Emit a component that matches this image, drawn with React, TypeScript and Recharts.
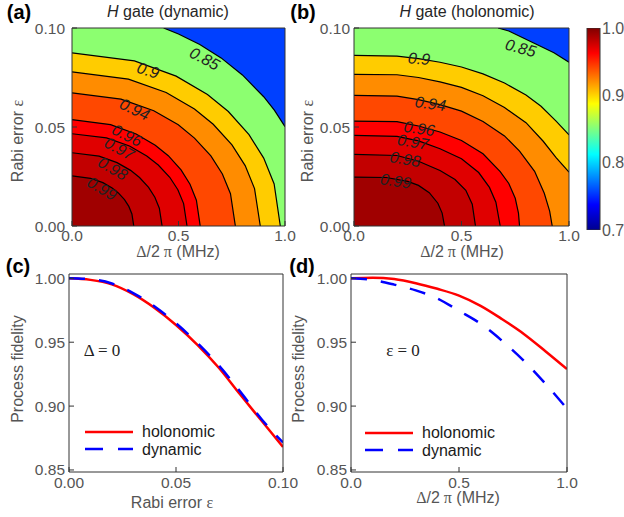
import React from 'react';
import {
  ComposedChart,
  LineChart,
  BarChart,
  Area,
  Line,
  Bar,
  Scatter,
  XAxis,
  YAxis,
  Legend,
} from 'recharts';

type Pt = [number, number];

const FONT = '"Liberation Sans", Arial, sans-serif';
const SERIF = '"Liberation Serif", "Times New Roman", serif';
const AXIS = '#333';

// contour levels, fill colour of the band above each level
const levels = [0.85, 0.9, 0.92, 0.94, 0.96, 0.97, 0.98, 0.99];
const bandColors = ['#8CFF70', '#FFCC00', '#FF8C00', '#FF4800', '#FF0000', '#E00000', '#C20000', '#A00000'];
const belowColor = '#0040FF';

// (a) dynamic gate: contour lines, x = Δ/2π (MHz), y = Rabi error ε
const dyn85: Pt[] = [[0.43, 0.1], [0.5, 0.097], [0.6, 0.0917], [0.7, 0.0849], [0.8, 0.0763], [0.9, 0.0653], [0.95, 0.0585], [1.0, 0.0502]];
const dyn90: Pt[] = [[0, 0.0874], [0.293, 0.0834], [0.489, 0.0757], [0.636, 0.0664], [0.734, 0.0578], [0.831, 0.0461], [0.9, 0.0343], [0.949, 0.0212], [0.978, 0]];
const dyn92: Pt[] = [[0, 0.0778], [0.265, 0.0742], [0.442, 0.0674], [0.575, 0.0591], [0.663, 0.0514], [0.751, 0.041], [0.813, 0.0305], [0.857, 0.0189], [0.884, 0]];
const dyn94: Pt[] = [[0, 0.0672], [0.23, 0.0641], [0.384, 0.0582], [0.499, 0.0511], [0.575, 0.0444], [0.652, 0.0354], [0.706, 0.0263], [0.744, 0.0163], [0.767, 0]];
const dyn96: Pt[] = [[0, 0.0537], [0.181, 0.0512], [0.301, 0.0465], [0.391, 0.0408], [0.452, 0.0355], [0.512, 0.0283], [0.554, 0.0211], [0.584, 0.013], [0.602, 0]];
const dyn97: Pt[] = [[0, 0.0466], [0.162, 0.0445], [0.27, 0.0404], [0.351, 0.0354], [0.405, 0.0308], [0.459, 0.0246], [0.497, 0.0183], [0.524, 0.0113], [0.54, 0]];
const dyn98: Pt[] = [[0, 0.037], [0.127, 0.0353], [0.2115, 0.032], [0.275, 0.0281], [0.317, 0.0245], [0.3596, 0.0195], [0.389, 0.0145], [0.41, 0.009], [0.423, 0]];
const dyn99: Pt[] = [[0, 0.0253], [0.087, 0.0241], [0.145, 0.0219], [0.1885, 0.0192], [0.2175, 0.0167], [0.2465, 0.0133], [0.2668, 0.0099], [0.2813, 0.0061], [0.29, 0]];

// (b) holonomic gate
const hol85: Pt[] = [[0.67, 0.1], [0.72, 0.0985], [0.79, 0.0948], [0.86, 0.0912], [0.93, 0.0875], [1.0, 0.0827]];
const hol90: Pt[] = [[0, 0.0862], [0.2, 0.0858], [0.3, 0.0845], [0.4, 0.0827], [0.5, 0.0803], [0.6, 0.0768], [0.7, 0.0722], [0.8, 0.0662], [0.87, 0.0605], [0.94, 0.053], [1.0, 0.046]];
const hol92: Pt[] = [[0, 0.0766], [0.2, 0.0764], [0.3, 0.075], [0.4, 0.0728], [0.5, 0.07], [0.6, 0.0658], [0.7, 0.0598], [0.8, 0.0522], [0.88, 0.0428], [0.94, 0.0345], [1.0, 0.0272]];
const hol94: Pt[] = [[0, 0.066], [0.2, 0.0656], [0.3, 0.0638], [0.4, 0.0613], [0.5, 0.058], [0.6, 0.0528], [0.7, 0.0455], [0.77, 0.0378], [0.84, 0.0276], [0.885, 0.0165], [0.91, 0.0075], [0.922, 0]];
const hol96: Pt[] = [[0, 0.053], [0.2, 0.0527], [0.3, 0.0505], [0.4, 0.0475], [0.5, 0.0432], [0.6, 0.0365], [0.68, 0.0275], [0.72, 0.0215], [0.75, 0.014], [0.765, 0.0065], [0.77, 0]];
const hol97: Pt[] = [[0, 0.0458], [0.2, 0.0453], [0.3, 0.043], [0.4, 0.039], [0.5, 0.034], [0.58, 0.027], [0.63, 0.0195], [0.66, 0.012], [0.68, 0]];
const hol98: Pt[] = [[0, 0.0362], [0.2, 0.0356], [0.3, 0.0327], [0.4, 0.028], [0.47, 0.0235], [0.52, 0.018], [0.55, 0.011], [0.565, 0]];
const hol99: Pt[] = [[0, 0.0247], [0.15, 0.0245], [0.25, 0.0225], [0.3, 0.0205], [0.35, 0.0168], [0.39, 0.0115], [0.41, 0.0065], [0.421, 0]];

const dynContours = [dyn85, dyn90, dyn92, dyn94, dyn96, dyn97, dyn98, dyn99];
const holContours = [hol85, hol90, hol92, hol94, hol96, hol97, hol98, hol99];

// inline contour labels (data coordinates)
const dynLabels = [
  { x: 0.623, y: 0.0845, text: '0.85' },
  { x: 0.357, y: 0.0786, text: '0.9' },
  { x: 0.294, y: 0.0589, text: '0.94' },
  { x: 0.258, y: 0.0458, text: '0.96' },
  { x: 0.222, y: 0.039, text: '0.97' },
  { x: 0.191, y: 0.029, text: '0.98' },
  { x: 0.141, y: 0.0189, text: '0.99' },
];
const dynLabelAngles = [28, 18, 25, 27, 28, 30, 30];
const holLabels = [
  { x: 0.775, y: 0.0899, text: '0.85' },
  { x: 0.303, y: 0.0845, text: '0.9' },
  { x: 0.355, y: 0.0618, text: '0.94' },
  { x: 0.303, y: 0.0492, text: '0.96' },
  { x: 0.274, y: 0.0424, text: '0.97' },
  { x: 0.238, y: 0.0337, text: '0.98' },
  { x: 0.194, y: 0.0227, text: '0.99' },
];
const holLabelAngles = [15, 5, 8, 8, 10, 10, 8];

// (c) fidelity vs Rabi error at Δ = 0
const rabiError = [0, 0.01, 0.02, 0.03, 0.04, 0.05, 0.06, 0.07, 0.08, 0.09, 0.1];
const holVsEps = [1.0, 0.9988, 0.9953, 0.9876, 0.9768, 0.9635, 0.948, 0.93, 0.909, 0.8885, 0.868];
const dynVsEps = [1.0, 0.9993, 0.996, 0.9885, 0.978, 0.9648, 0.9494, 0.9318, 0.9113, 0.8897, 0.8715];

// (d) fidelity vs detuning at ε = 0
const detuning = [0, 0.1, 0.2, 0.3, 0.4, 0.5, 0.6, 0.7, 0.8, 0.9, 1.0];
const holVsDelta = [1.0, 1.0005, 0.9994, 0.9962, 0.9918, 0.9865, 0.9785, 0.968, 0.9565, 0.943, 0.929];
const dynVsDelta = [1.0, 0.9987, 0.9951, 0.9906, 0.9843, 0.9746, 0.9645, 0.951, 0.9355, 0.9175, 0.898];

const colorbarRange = [0.7, 1.0];
const colorbarTicks = [0.7, 0.8, 0.9, 1.0];

const tickStyle = { fontSize: 15.5, fill: '#555', fontFamily: FONT };
const plotBox = [{ x: 0, y: 0.1 }, { x: 1, y: 0.1 }];

const renderContourLabel = (p: any) => (
  <text
    x={p.cx}
    y={p.cy}
    transform={`rotate(${p.payload.angle} ${p.cx} ${p.cy})`}
    textAnchor="middle"
    dominantBaseline="central"
    fontSize={16}
    fontStyle="italic"
    fontFamily={FONT}
    fill="#222"
  >
    {p.payload.text}
  </text>
);

interface ContourProps {
  contours: Pt[][];
  labels: { x: number; y: number; text: string }[];
  angles: number[];
  width: number;
  yWidth: number;
  yTickMargin: number;
  rightMargin: number;
}

const ContourMap: React.FC<ContourProps> = ({ contours, labels, angles, width, yWidth, yTickMargin, rightMargin }) => {
  const lines = contours.map((pts) => pts.map(([x, y]) => ({ x, y })));
  // region F >= level: fill under the curve (top-edge part added where the curve starts on y = 0.1)
  const fills = lines.map((d) => (d[0].x > 0 ? [{ x: 0, y: d[0].y }, ...d] : d));
  const labelData = labels.map((l, i) => ({ ...l, angle: angles[i] }));
  return (
    <ComposedChart width={width} height={262} margin={{ top: 27, right: rightMargin, bottom: 0, left: 0 }}>
      <Area data={plotBox} dataKey="y" type="linear" fill={belowColor} fillOpacity={1} stroke="none" isAnimationActive={false} />
      {fills.map((d, i) => (
        <Area
          key={`fill-${levels[i]}`}
          data={d}
          dataKey="y"
          type="linear"
          fill={bandColors[i]}
          fillOpacity={1}
          stroke="none"
          isAnimationActive={false}
        />
      ))}
      {lines.map((d, i) => (
        <Line
          key={`line-${levels[i]}`}
          data={d}
          dataKey="y"
          type="linear"
          stroke="#000"
          strokeWidth={1.2}
          dot={false}
          activeDot={false}
          isAnimationActive={false}
        />
      ))}
      <Scatter data={labelData} dataKey="y" shape={renderContourLabel} isAnimationActive={false} />
      <Line xAxisId="top" yAxisId="right" data={plotBox} dataKey="y" stroke="none" dot={false} isAnimationActive={false} />
      <XAxis
        dataKey="x"
        type="number"
        domain={[0, 1]}
        ticks={[0, 0.5, 1]}
        allowDataOverflow
        tickFormatter={(v: number) => v.toFixed(1)}
        height={36}
        tickSize={-5}
        tickMargin={9}
        stroke={AXIS}
        tick={tickStyle}
      />
      <YAxis
        dataKey="y"
        type="number"
        domain={[0, 0.1]}
        ticks={[0, 0.05, 0.1]}
        allowDataOverflow
        tickFormatter={(v: number) => v.toFixed(2)}
        width={yWidth}
        tickSize={-5}
        tickMargin={yTickMargin}
        stroke={AXIS}
        tick={tickStyle}
      />
      <XAxis xAxisId="top" orientation="top" dataKey="x" type="number" domain={[0, 1]} ticks={[0, 0.5, 1]} allowDataOverflow height={1} tick={false} tickSize={-5} stroke={AXIS} />
      <YAxis yAxisId="right" orientation="right" dataKey="y" type="number" domain={[0, 0.1]} ticks={[0, 0.05, 0.1]} allowDataOverflow width={1} tick={false} tickSize={-5} stroke={AXIS} />
    </ComposedChart>
  );
};

const legendItems = [
  { name: 'holonomic', color: '#FF0000', dash: undefined },
  { name: 'dynamic', color: '#0000FF', dash: '18 15' },
];

const renderLegend = () => (
  <div style={{ fontFamily: FONT, fontSize: 16, color: '#1a1a1a' }}>
    {legendItems.map((item) => (
      <div key={item.name} style={{ display: 'flex', alignItems: 'center', height: 17.5 }}>
        <svg width={48} height={6} style={{ display: 'block' }}>
          <line x1={0} y1={3} x2={48} y2={3} stroke={item.color} strokeWidth={2.5} strokeDasharray={item.dash} />
        </svg>
        <span style={{ marginLeft: 9, lineHeight: '17.5px' }}>{item.name}</span>
      </div>
    ))}
  </div>
);

interface FidelityProps {
  xs: number[];
  hol: number[];
  dyn: number[];
  xTicks: number[];
  digits: number;
  width: number;
  yWidth: number;
  rightMargin: number;
  legendLeft: number;
  legendTop: number;
}

const FidelityPanel: React.FC<FidelityProps> = ({ xs, hol, dyn, xTicks, digits, width, yWidth, rightMargin, legendLeft, legendTop }) => {
  const data = xs.map((x, i) => ({ x, hol: hol[i], dyn: dyn[i] }));
  const xMax = xTicks[xTicks.length - 1];
  const yDomain = [0.8484, 1.0034];
  const yTicks = [0.85, 0.9, 0.95, 1.0];
  return (
    <LineChart width={width} height={255} data={data} margin={{ top: 11, right: rightMargin, bottom: 0, left: 0 }}>
      <Line dataKey="hol" name="holonomic" type="monotone" stroke="#FF0000" strokeWidth={2.5} dot={false} activeDot={false} isAnimationActive={false} />
      <Line dataKey="dyn" name="dynamic" type="monotone" stroke="#0000FF" strokeWidth={2.5} strokeDasharray="16 14" dot={false} activeDot={false} isAnimationActive={false} />
      <Line xAxisId="top" yAxisId="right" dataKey="hol" stroke="none" dot={false} legendType="none" isAnimationActive={false} />
      <XAxis
        dataKey="x"
        type="number"
        domain={[0, xMax]}
        ticks={xTicks}
        allowDataOverflow
        tickFormatter={(v: number) => v.toFixed(digits)}
        height={45}
        tickSize={-5}
        tickMargin={10}
        stroke={AXIS}
        tick={tickStyle}
      />
      <YAxis
        type="number"
        domain={yDomain}
        ticks={yTicks}
        allowDataOverflow
        tickFormatter={(v: number) => v.toFixed(2)}
        width={yWidth}
        tickSize={-5}
        tickMargin={9}
        stroke={AXIS}
        tick={tickStyle}
      />
      <XAxis xAxisId="top" orientation="top" dataKey="x" type="number" domain={[0, xMax]} ticks={xTicks} allowDataOverflow height={1} tick={false} tickSize={-5} stroke={AXIS} />
      <YAxis yAxisId="right" orientation="right" type="number" domain={yDomain} ticks={yTicks} allowDataOverflow width={1} tick={false} tickSize={-5} stroke={AXIS} />
      <Legend
        layout="vertical"
        align="center"
        verticalAlign="middle"
        content={renderLegend}
        wrapperStyle={{ left: legendLeft, top: legendTop, width: 'auto' }}
      />
    </LineChart>
  );
};

const Colorbar: React.FC = () => (
  <BarChart width={49} height={262} data={[{ name: 'F', range: colorbarRange }]} margin={{ top: 28, right: 0, bottom: 32, left: 12 }} barCategoryGap={0}>
    <defs>
      <linearGradient id="jet" x1="0" y1="1" x2="0" y2="0">
        <stop offset="0" stopColor="#00008F" />
        <stop offset="0.125" stopColor="#0000FF" />
        <stop offset="0.375" stopColor="#00FFFF" />
        <stop offset="0.625" stopColor="#FFFF00" />
        <stop offset="0.875" stopColor="#FF0000" />
        <stop offset="1" stopColor="#800000" />
      </linearGradient>
    </defs>
    <XAxis dataKey="name" hide />
    <YAxis
      orientation="right"
      type="number"
      domain={colorbarRange}
      ticks={colorbarTicks}
      allowDataOverflow
      tickFormatter={(v: number) => v.toFixed(1)}
      width={24}
      axisLine={false}
      tickLine={false}
      tickSize={0}
      tickMargin={2}
      tick={{ fontSize: 16, fill: '#555', fontFamily: FONT }}
    />
    <Bar dataKey="range" fill="url(#jet)" stroke={AXIS} strokeWidth={1} isAnimationActive={false} />
  </BarChart>
);

const Abs: React.FC<{ left: number; top: number; children: React.ReactNode }> = ({ left, top, children }) => (
  <div style={{ position: 'absolute', left, top }}>{children}</div>
);

const Text: React.FC<{ cx: number; cy: number; rotate?: boolean; size?: number; color?: string; bold?: boolean; family?: string; children: React.ReactNode }> = ({
  cx,
  cy,
  rotate,
  size = 16,
  color = '#555',
  bold,
  family = FONT,
  children,
}) => (
  <div
    style={{
      position: 'absolute',
      left: cx,
      top: cy,
      transform: `translate(-50%, -50%)${rotate ? ' rotate(-90deg)' : ''}`,
      whiteSpace: 'nowrap',
      fontSize: size,
      lineHeight: `${size}px`,
      color,
      fontWeight: bold ? 700 : 400,
      fontFamily: family,
    }}
  >
    {children}
  </div>
);

const DeltaLabel = () => (
  <>
    <span style={{ fontFamily: SERIF }}>Δ</span>/2<span style={{ fontFamily: SERIF }}> π</span> (MHz)
  </>
);

const RabiLabel = () => (
  <>
    Rabi error <span style={{ fontFamily: SERIF }}>ε</span>
  </>
);

export default function App() {
  return (
    <div style={{ position: 'absolute', left: 0, top: 0, width: 624, height: 517, background: '#fff', fontFamily: FONT, overflow: 'hidden' }}>
      <Abs left={0} top={0}>
        <ContourMap contours={dynContours} labels={dynLabels} angles={dynLabelAngles} width={300} yWidth={72} yTickMargin={12} rightMargin={14} />
      </Abs>
      <Abs left={300} top={0}>
        <ContourMap contours={holContours} labels={holLabels} angles={holLabelAngles} width={280} yWidth={54} yTickMargin={9} rightMargin={10} />
      </Abs>
      <Abs left={575} top={0}>
        <Colorbar />
      </Abs>
      <Abs left={0} top={262}>
        <FidelityPanel
          xs={rabiError}
          hol={holVsEps}
          dyn={dynVsEps}
          xTicks={[0, 0.05, 0.1]}
          digits={2}
          width={300}
          yWidth={69}
          rightMargin={16}
          legendLeft={85}
          legendTop={161}
        />
      </Abs>
      <Abs left={300} top={262}>
        <FidelityPanel
          xs={detuning}
          hol={holVsDelta}
          dyn={dynVsDelta}
          xTicks={[0, 0.5, 1]}
          digits={1}
          width={280}
          yWidth={51}
          rightMargin={12}
          legendLeft={65}
          legendTop={162}
        />
      </Abs>

      <Text cx={19} cy={12} size={20} color="#000" bold>(a)</Text>
      <Text cx={303} cy={12} size={20} color="#000" bold>(b)</Text>
      <Text cx={18} cy={266} size={20} color="#000" bold>(c)</Text>
      <Text cx={302} cy={266} size={20} color="#000" bold>(d)</Text>

      <Text cx={168} cy={12} color="#262626">
        <i>H</i> gate (dynamic)
      </Text>
      <Text cx={467} cy={12} color="#262626">
        <i>H</i> gate (holonomic)
      </Text>

      <Text cx={18} cy={141} rotate>
        <RabiLabel />
      </Text>
      <Text cx={308} cy={141} rotate>
        <RabiLabel />
      </Text>
      <Text cx={178} cy={252}>
        <DeltaLabel />
      </Text>
      <Text cx={462} cy={252}>
        <DeltaLabel />
      </Text>

      <Text cx={18} cy={369} rotate>Process fidelity</Text>
      <Text cx={299} cy={369} rotate>Process fidelity</Text>
      <Text cx={172} cy={503}>
        <RabiLabel />
      </Text>
      <Text cx={458} cy={498}>
        <DeltaLabel />
      </Text>

      <Text cx={102} cy={350} size={17} color="#222" family={SERIF}>Δ = 0</Text>
      <Text cx={403} cy={350} size={17} color="#222" family={SERIF}>ε = 0</Text>
    </div>
  );
}
